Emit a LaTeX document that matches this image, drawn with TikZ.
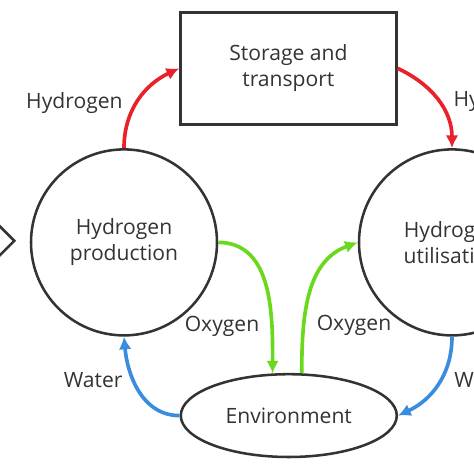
\documentclass[tikz,border=0pt]{standalone}
\usepackage{fontspec}
\setmainfont{Open Sans}
\usepackage{xcolor}
\usepackage{tikz}
\usetikzlibrary{arrows.meta,positioning,shapes.geometric}
\definecolor{HyRed}{HTML}{E8212B}
\definecolor{HyGreen}{HTML}{6AD91E}
\definecolor{HyBlue}{HTML}{3A8DDE}
\definecolor{HyGrey}{HTML}{333333}

\begin{document}
\begin{tikzpicture}[font=\fontsize{15}{18.5}\selectfont, >={Latex[length=9pt,width=9pt]},
  stage/.style={circle, draw=HyGrey, line width=1.8pt, minimum size=4.65cm, inner sep=0pt, align=center, text=HyGrey},
  box/.style={rectangle, draw=HyGrey, line width=1.8pt, minimum width=5.4cm, minimum height=2.8cm, align=center, text=HyGrey},
  env/.style={ellipse, draw=HyGrey, line width=1.8pt, minimum width=5.4cm, minimum height=2.07cm, inner sep=0pt, text=HyGrey},
  flow/.style={->, line width=2.6pt},
  lab/.style={text=HyGrey, inner sep=1pt}]
\useasboundingbox (0,0) rectangle (11.85,11.85);
\node[box] (store) at (7.21,10.14) {Storage and\\transport};
\node[stage] (prod) at (3.1,5.79) {Hydrogen\\production};
\node[stage] (use) at (11.3,5.79) {Hydrogen\\utilisation};
\node[env] (envir) at (7.22,1.46) {Environment};
\node[diamond, draw=HyGrey, line width=1.8pt, minimum width=0.8cm, minimum height=0.8cm, inner sep=0pt] (src) at (-0.03,5.83) {};
\draw[flow,HyRed] (prod.north) to[out=90,in=205] (store.west);
\draw[flow,HyRed] (store.east) to[out=-25,in=90] (use.north);
\draw[flow,HyGreen] (prod.east) to[out=0,in=90] (envir.111);
\draw[flow,HyGreen] (envir.73) to[out=90,in=200] (use.west);
\draw[flow,HyBlue] (envir.west) to[out=180,in=-85] (prod.south);
\draw[flow,HyBlue] (use.south) to[out=-90,in=25] (envir.east);
\node[lab] (h2a) at (1.86,9.28) {Hydrogen};
\node[lab, anchor=west] (h2b) at (11.3,9.33) {Hydrogen};
\node[lab] (o2a) at (5.55,3.7) {Oxygen};
\node[lab] (o2b) at (8.85,3.72) {Oxygen};
\node[lab] (wa) at (2.33,2.35) {Water};
\node[lab, anchor=west] (wb) at (11.32,2.35) {Water};
\end{tikzpicture}
\end{document}
